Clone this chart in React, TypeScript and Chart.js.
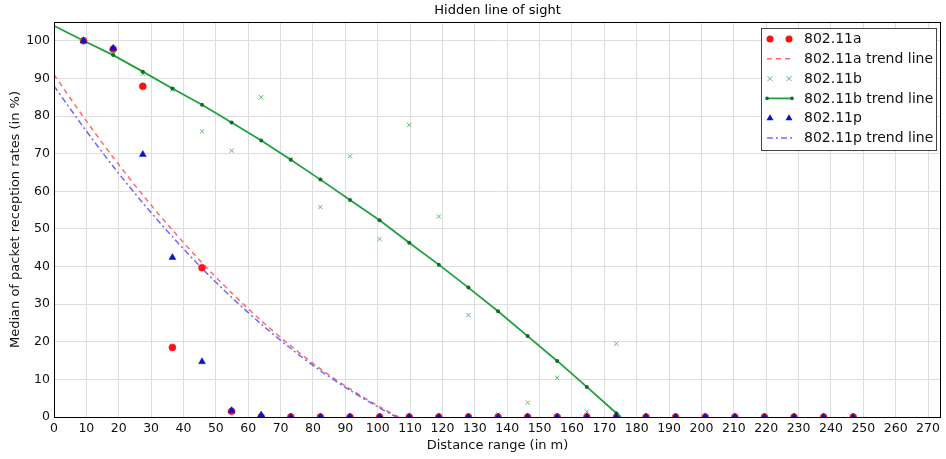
import React, { useEffect, useRef } from 'react';
import { Chart, registerables } from 'chart.js';

Chart.register(...registerables);

// Distance ranges (m)
const distances = [9.14, 18.29, 27.43, 36.58, 45.72, 54.86, 64.01, 73.15, 82.3, 91.44, 100.58, 109.73, 118.87, 128.02, 137.16, 146.3, 155.45, 164.59, 173.74, 182.88, 192.02, 201.17, 210.31, 219.46, 228.6, 237.74, 246.89];

// Median packet reception rates (%)
const rateA = [100, 97.8, 87.9, 18.5, 39.7, 1.5, 0, 0, 0, 0, 0, 0, 0, 0, 0, 0, 0, 0, 0, 0, 0, 0, 0, 0, 0, 0, 0];
const distancesB = [9.14, 18.29, 27.43, 36.58, 45.72, 54.86, 64.01, 73.15, 82.3, 91.44, 100.58, 109.73, 118.87, 128.02, 137.16, 146.3, 155.45, 164.59, 173.74];
const rateB = [100, 96.5, 91.2, 87, 75.9, 70.8, 85, 68.5, 55.8, 69.3, 47.3, 77.6, 53.3, 27.1, 0.7, 3.8, 10.4, 1.4, 19.5];
const rateP = [100, 98, 69.8, 42.4, 14.7, 1.7, 0.5, 0, 0, 0, 0, 0, 0, 0, 0, 0, 0, 0, 0, 0, 0, 0, 0, 0, 0, 0, 0];

// Trend lines
const trendAX = [0, 9.14, 18.29, 27.43, 36.58, 45.72, 54.86, 64.01, 73.15, 82.3, 91.44, 100.58, 106.5];
const trendAY = [91, 79.7, 69.0, 59.0, 49.7, 41.0, 33.0, 25.6, 18.9, 12.8, 7.45, 2.7, 0];
const trendBX = [0, 9.14, 18.29, 27.43, 36.58, 45.72, 54.86, 64.01, 73.15, 82.3, 91.44, 100.58, 109.73, 118.87, 128.02, 137.16, 146.3, 155.45, 164.59, 173.74, 175.1];
const trendBY = [104, 100, 96.2, 91.8, 87.3, 83.0, 78.3, 73.5, 68.4, 63.1, 57.7, 52.3, 46.3, 40.5, 34.4, 28.1, 21.5, 14.9, 8.0, 1.0, 0];
const trendPX = [0, 9.14, 18.29, 27.43, 36.58, 45.72, 54.86, 64.01, 73.15, 82.3, 91.44, 100.58, 105.8];
const trendPY = [88, 77.0, 66.6, 56.9, 47.9, 39.5, 31.8, 24.7, 18.2, 12.3, 7.1, 2.4, 0];

const FONT = "'DejaVu Sans', sans-serif";

const pts = (xs: number[], ys: number[]) => xs.map((x, i) => ({ x, y: ys[i] }));

const COL_A = '#ff1010';
const COL_A_TREND = 'rgba(255,90,90,0.9)';
const COL_B = '#58bb62';
const COL_B_TREND = '#22a03a';
const COL_B_DOT = '#0e6e22';
const COL_P = '#0a14c8';
const COL_P_TREND = 'rgba(90,90,255,0.9)';

const framePlugin = {
  id: 'frameTitleLegend',
  afterDraw(chart: any) {
    const { ctx, chartArea } = chart;
    const { left, top, right, bottom } = chartArea;
    ctx.save();
    // frame
    ctx.strokeStyle = '#000';
    ctx.lineWidth = 1;
    ctx.strokeRect(Math.round(left) + 0.5, Math.round(top) + 0.5, Math.round(right - left) - 1, Math.round(bottom - top));
    // title
    ctx.fillStyle = '#000';
    ctx.font = `13px ${FONT}`;
    ctx.textAlign = 'center';
    ctx.textBaseline = 'middle';
    ctx.fillText('Hidden line of sight', (left + right) / 2, 11);

    // legend
    const boxW = 175;
    const boxH = 122;
    const bx = right - 5 - boxW;
    const by = top + 6;
    ctx.fillStyle = '#fff';
    ctx.fillRect(bx, by, boxW, boxH);
    ctx.strokeStyle = '#444';
    ctx.lineWidth = 1;
    ctx.strokeRect(Math.round(bx) + 0.5, Math.round(by) + 0.5, boxW, boxH);
    const m1 = bx + 9;
    const m2 = bx + 28;
    const drawMarker = (kind: string, x: number, y: number) => {
      if (kind === 'circle') {
        ctx.fillStyle = COL_A;
        ctx.beginPath();
        ctx.arc(x, y, 3.5, 0, Math.PI * 2);
        ctx.fill();
      } else if (kind === 'cross') {
        ctx.strokeStyle = COL_B;
        ctx.lineWidth = 1;
        ctx.beginPath();
        ctx.moveTo(x - 2.5, y - 2.5); ctx.lineTo(x + 2.5, y + 2.5);
        ctx.moveTo(x + 2.5, y - 2.5); ctx.lineTo(x - 2.5, y + 2.5);
        ctx.stroke();
      } else if (kind === 'triangle') {
        ctx.fillStyle = COL_P;
        ctx.beginPath();
        ctx.moveTo(x, y - 4);
        ctx.lineTo(x + 3.5, y + 2);
        ctx.lineTo(x - 3.5, y + 2);
        ctx.closePath();
        ctx.fill();
      }
    };
    const items = chart.data.datasets.map((d: any) => d.label);
    const kinds = ['circle', 'dashA', 'cross', 'lineB', 'triangle', 'dashP'];
    items.forEach((label: string, i: number) => {
      const y = by + 11 + i * 19.8;
      const k = kinds[i];
      ctx.setLineDash([]);
      if (k === 'circle' || k === 'cross' || k === 'triangle') {
        drawMarker(k, m1, y);
        drawMarker(k, m2, y);
      } else {
        ctx.beginPath();
        if (k === 'dashA') {
          ctx.strokeStyle = COL_A_TREND;
          ctx.setLineDash([5, 4]);
          ctx.lineWidth = 1.5;
        } else if (k === 'dashP') {
          ctx.strokeStyle = COL_P_TREND;
          ctx.setLineDash([6, 3, 2, 3]);
          ctx.lineWidth = 1.5;
        } else {
          ctx.strokeStyle = COL_B_TREND;
          ctx.lineWidth = 1.8;
        }
        ctx.moveTo(m1 - 3, y);
        ctx.lineTo(m2 + 3, y);
        ctx.stroke();
        ctx.setLineDash([]);
        if (k === 'lineB') {
          ctx.fillStyle = COL_B_DOT;
          [m1 - 3, m2 + 3].forEach((x) => {
            ctx.beginPath();
            ctx.arc(x, y, 1.8, 0, Math.PI * 2);
            ctx.fill();
          });
        }
      }
      ctx.fillStyle = '#111';
      ctx.font = `14px ${FONT}`;
      ctx.textAlign = 'left';
      ctx.textBaseline = 'middle';
      ctx.fillText(label, bx + 43, y + 0.5);
    });
    ctx.restore();
  },
};

export default function App() {
  const ref = useRef<HTMLCanvasElement | null>(null);

  useEffect(() => {
    if (!ref.current) return;
    const tickFont = { family: FONT, size: 12.5 };
    const trendBRadius = trendBX.map((x, i) => (i === 0 || i === trendBX.length - 1 ? 0 : 2));
    const chart = new Chart(ref.current, {
      type: 'scatter',
      data: {
        datasets: [
          {
            label: '802.11a',
            data: pts(distances, rateA),
            pointStyle: 'circle',
            pointRadius: 3.5,
            backgroundColor: COL_A,
            borderColor: COL_A,
            borderWidth: 0.5,
            showLine: false,
            clip: 0,
            order: 6,
          },
          {
            label: '802.11a trend line',
            data: pts(trendAX, trendAY),
            showLine: true,
            borderColor: COL_A_TREND,
            borderDash: [5, 4],
            borderWidth: 1.5,
            pointRadius: 0,
            tension: 0.3,
            clip: 0,
            order: 5,
          },
          {
            label: '802.11b',
            data: pts(distancesB, rateB),
            pointStyle: 'crossRot',
            pointRadius: 3,
            borderColor: COL_B,
            backgroundColor: COL_B,
            borderWidth: 1,
            showLine: false,
            clip: 0,
            order: 4,
          },
          {
            label: '802.11b trend line',
            data: pts(trendBX, trendBY),
            showLine: true,
            borderColor: COL_B_TREND,
            borderWidth: 1.8,
            pointRadius: trendBRadius,
            pointBackgroundColor: COL_B_DOT,
            pointBorderWidth: 0,
            clip: 0,
            order: 3,
          },
          {
            label: '802.11p',
            data: pts(distances, rateP),
            pointStyle: 'triangle',
            pointRadius: 4,
            backgroundColor: COL_P,
            borderColor: COL_P,
            borderWidth: 0.5,
            showLine: false,
            clip: 0,
            order: 2,
          },
          {
            label: '802.11p trend line',
            data: pts(trendPX, trendPY),
            showLine: true,
            borderColor: COL_P_TREND,
            borderDash: [6, 3, 2, 3],
            borderWidth: 1.5,
            pointRadius: 0,
            tension: 0.3,
            clip: 0,
            order: 1,
          },
        ],
      },
      options: {
        animation: false,
        responsive: true,
        maintainAspectRatio: false,
        layout: { padding: { top: 22, right: 1, left: 0, bottom: 0 } },
        plugins: {
          legend: { display: false },
          tooltip: { enabled: false },
          title: { display: false },
        },
        scales: {
          x: {
            type: 'linear',
            min: 0,
            max: 274,
            ticks: {
              stepSize: 10,
              includeBounds: false,
              autoSkip: false,
              maxRotation: 0,
              font: tickFont,
              color: '#111',
              padding: 4,
            },
            grid: { color: '#dedede', lineWidth: 1, drawTicks: false },
            border: { display: false },
            title: {
              display: true,
              text: 'Distance range (in m)',
              font: { family: FONT, size: 13 },
              color: '#111',
              padding: { top: 2, bottom: 6 },
            },
            afterFit: (s: any) => {
              s.height = 42;
            },
          },
          y: {
            type: 'linear',
            min: 0,
            max: 105,
            ticks: {
              stepSize: 10,
              includeBounds: false,
              font: tickFont,
              color: '#111',
              padding: 4,
            },
            grid: { color: '#dedede', lineWidth: 1, drawTicks: false },
            border: { display: false },
            title: {
              display: true,
              text: 'Median of packet reception rates (in %)',
              font: { family: FONT, size: 13 },
              color: '#111',
              padding: { top: 8, bottom: 0 },
            },
            afterFit: (s: any) => {
              s.width = 54;
            },
          },
        },
      },
      plugins: [framePlugin],
    } as any);
    return () => chart.destroy();
  }, []);

  return (
    <div style={{ position: 'fixed', left: 0, top: 0, width: 946, height: 459, background: '#fff' }}>
      <canvas ref={ref} />
    </div>
  );
}
